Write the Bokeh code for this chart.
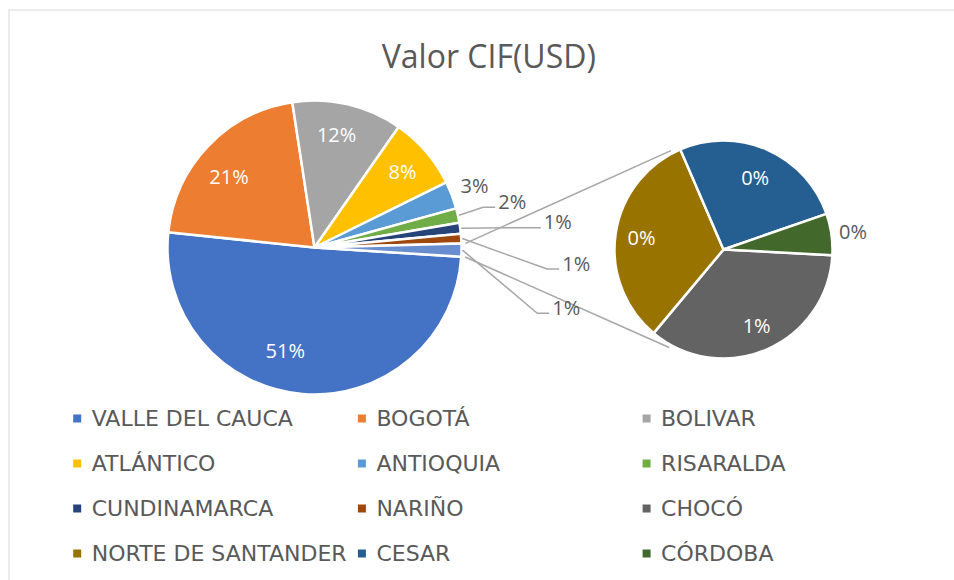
import math
from bokeh.plotting import figure
from bokeh.models import Range1d
from bokeh.core.properties import value
from bokeh.embed import file_html
from bokeh.resources import INLINE

# ---------------- data ----------------
title_text = "Valor CIF(USD)"
main_categories = ["VALLE DEL CAUCA", "BOGOTÁ", "BOLIVAR", "ATLÁNTICO",
                   "ANTIOQUIA", "RISARALDA", "CUNDINAMARCA", "NARIÑO"]
main_values = [50.6, 20.9, 12.1, 8.0, 3.0, 1.6, 1.2, 1.05]
second_categories = ["CHOCÓ", "NORTE DE SANTANDER", "CESAR", "CÓRDOBA"]
second_values = [0.505, 0.465, 0.375, 0.088]

main_colors = ["#4472C4", "#ED7D31", "#A5A5A5", "#FFC000",
               "#5B9BD5", "#70AD47", "#264478", "#9E480E"]
second_colors = ["#636363", "#997300", "#255E91", "#43682B"]
other_color = "#698ED0"

# ---------------- layout ----------------
PAGE_W, PAGE_H = 954, 580
def sy(y):
    return PAGE_H - y

MAIN_C = (314, sy(247)); MAIN_R = 147
SEC_C = (723, sy(249)); SEC_R = 109
MAIN_START = -3.6   # degrees, lower edge of the "other" slice
SEC_START = -3.0

TEXT_GREY = "#595959"
LABEL_FONT = value("Open Sans")

p = figure(width=PAGE_W, height=PAGE_H, x_range=Range1d(0, PAGE_W), y_range=Range1d(0, PAGE_H),
           output_backend="svg", toolbar_location=None, min_border=0,
           x_axis_location=None, y_axis_location=None)
p.grid.visible = False
p.outline_line_color = None
p.background_fill_color = "white"
p.border_fill_color = "white"

# chart area border (top + left visible)
p.segment(x0=[8.5, 8], y0=[sy(580), sy(9.5)], x1=[8.5, 954], y1=[sy(9.5), sy(9.5)],
          line_color="#D9D9D9", line_width=1)

def pct(v, tot):
    return "%d%%" % int(v / tot * 100 + 0.5)

def polar(c, rr, deg):
    a = math.radians(deg)
    return c[0] + rr * math.cos(a), c[1] + rr * math.sin(a)

other_value = sum(second_values)
total = sum(main_values) + other_value
dpu = 360.0 / total

# ---- main pie wedges (clockwise from MAIN_START) ----
starts, ends, mids = [], [], []
cum = 0.0
for v in main_values:
    e = MAIN_START - cum * dpu
    s = MAIN_START - (cum + v) * dpu
    starts.append(s); ends.append(e); mids.append((s + e) / 2)
    cum += v
o_s = MAIN_START
o_e = MAIN_START + other_value * dpu
o_mid = (o_s + o_e) / 2

n = len(main_values) + 1
p.wedge(x=[MAIN_C[0]] * n, y=[MAIN_C[1]] * n, radius=MAIN_R,
        start_angle=[math.radians(a) for a in starts + [o_s]],
        end_angle=[math.radians(a) for a in ends + [o_e]],
        fill_color=main_colors + [other_color], line_color="white", line_width=2.5)

# ---- secondary pie wedges ----
tot2 = sum(second_values)
dpu2 = 360.0 / tot2
s2, e2, m2 = [], [], []
cum = 0.0
for v in second_values:
    e = SEC_START - cum * dpu2
    s = SEC_START - (cum + v) * dpu2
    s2.append(s); e2.append(e); m2.append((s + e) / 2)
    cum += v
p.wedge(x=[SEC_C[0]] * 4, y=[SEC_C[1]] * 4, radius=SEC_R,
        start_angle=[math.radians(a) for a in s2],
        end_angle=[math.radians(a) for a in e2],
        fill_color=second_colors, line_color="white", line_width=2.5)

# ---- connector lines between pies ----
a1 = polar(MAIN_C, MAIN_R + 4, o_e)
a2 = polar(MAIN_C, MAIN_R + 4, o_s)
b1 = polar(SEC_C, SEC_R + 3, 118)
b2 = polar(SEC_C, SEC_R + 3, 241)
p.segment(x0=[a1[0], a2[0]], y0=[a1[1], a2[1]], x1=[b1[0], b2[0]], y1=[b1[1], b2[1]],
          line_color="#A6A6A6", line_width=1.5)

# ---- inner labels main ----
INNER_FRAC = [0.73, 0.755, 0.78, 0.79]
INNER_SHIFT = [-11, 4, 2, 0]
lx, ly, lt = [], [], []
for i in range(4):
    x, y = polar(MAIN_C, MAIN_R * INNER_FRAC[i], mids[i] + INNER_SHIFT[i])
    lx.append(x); ly.append(y); lt.append(pct(main_values[i], total))
# secondary inner labels
SEC_FRAC = [0.76, 0.76, 0.72]
for i in range(3):
    x, y = polar(SEC_C, SEC_R * SEC_FRAC[i], m2[i])
    lx.append(x); ly.append(y); lt.append(pct(second_values[i], total))
p.text(x=lx, y=ly, text=lt, text_color="white", text_font=LABEL_FONT,
       text_font_size="20px", text_align="center", text_baseline="middle")

# secondary outside label (CÓRDOBA)
cx_, cy_ = polar(SEC_C, SEC_R * 1.2, m2[3])
p.text(x=[cx_], y=[cy_], text=[pct(second_values[3], total)], text_color=TEXT_GREY,
       text_font=LABEL_FONT, text_font_size="20px", text_align="center",
       text_baseline="middle")

# ---- outer labels main with leader lines ----
OUTER_LEFT = [460, 497.7, 543.3, 561.7, 551.7]
OUTER_CY = [184.7, 200.8, 221.2, 262.5, 306.7]
outer_vals = main_values[4:] + [other_value]
outer_mids = mids[4:] + [o_mid]
p.text(x=OUTER_LEFT, y=[sy(c) for c in OUTER_CY],
       text=[pct(v, total) for v in outer_vals], text_color=TEXT_GREY,
       text_font=LABEL_FONT, text_font_size="20px", text_align="left",
       text_baseline="middle")
xs, ys = [], []
for k in range(1, 5):
    st = polar(MAIN_C, MAIN_R + 1, outer_mids[k])
    ly_ = sy(OUTER_CY[k] + 6)
    xs.append([st[0], OUTER_LEFT[k] - 15, OUTER_LEFT[k] - 3])
    ys.append([st[1], ly_, ly_])
p.multi_line(xs=xs, ys=ys, line_color="#A6A6A6", line_width=1.5)

# ---- title ----
p.text(x=[488.3], y=[sy(54.5)], text=[title_text], text_color=TEXT_GREY,
       text_font=LABEL_FONT, text_font_size="32px", text_align="center",
       text_baseline="middle")

# ---- legend ----
leg_names = main_categories + second_categories
leg_colors = main_colors + second_colors
mx, my, tx, ty = [], [], [], []
for i, name in enumerate(leg_names):
    r_, c_ = divmod(i, 3)
    mx.append(76.7 + 284.7 * c_)
    my.append(sy(418 + 45 * r_))
    tx.append(76.7 + 284.7 * c_ + 14.5)
    ty.append(sy(418 + 45 * r_))
p.scatter(x=mx, y=my, marker="square", size=8, fill_color=leg_colors, line_color=None)
p.text(x=tx, y=ty, text=leg_names, text_color=TEXT_GREY, text_font=value("DejaVu Sans"),
       text_font_size="22px", text_align="left", text_baseline="middle")

open("out.html", "w").write(file_html(p, INLINE))
